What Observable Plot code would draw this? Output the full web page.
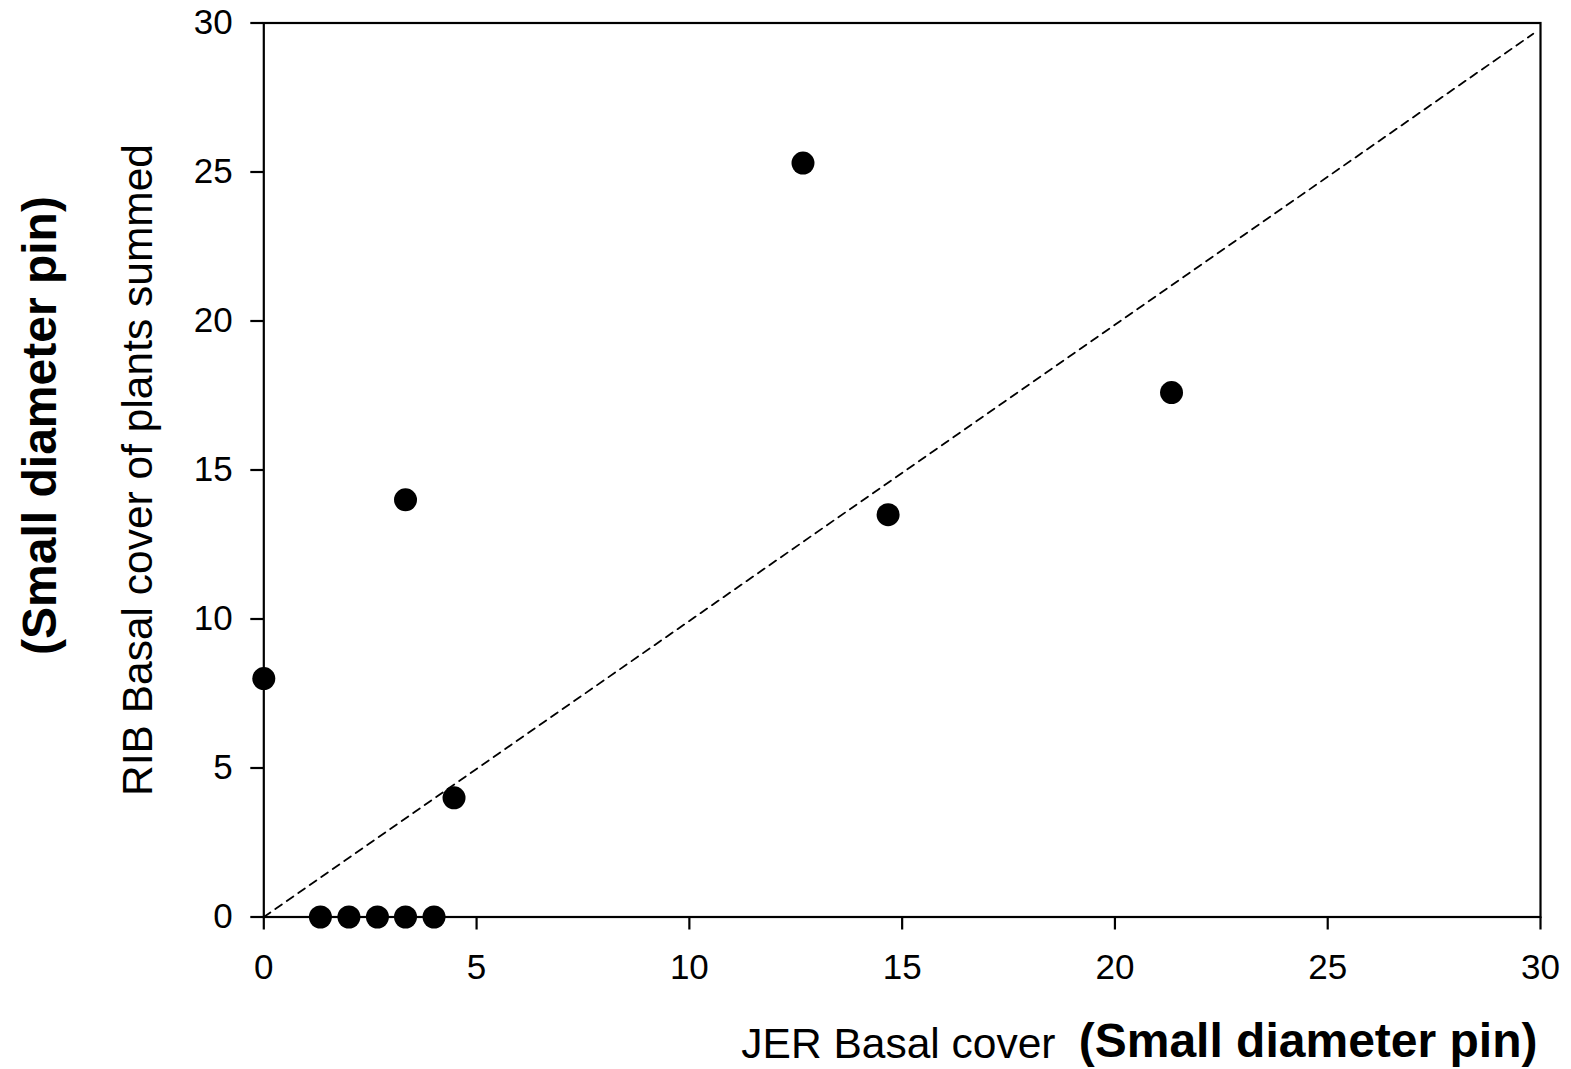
<!DOCTYPE html>
<html>
<head>
<meta charset="utf-8">
<script src="https://cdn.jsdelivr.net/npm/d3@7"></script>
<script src="https://cdn.jsdelivr.net/npm/@observablehq/plot@0.6"></script>
<style>
  html, body { margin: 0; padding: 0; background: #fff; }
  #chart svg { display: block; }
</style>
</head>
<body>
<div id="chart"></div>
<script>
// JER basal cover (x) vs RIB basal cover of plants summed (y), small diameter pin
const jerCover = [0, 1.33, 2.0, 2.67, 3.33, 4.0, 3.33, 4.47, 12.67, 14.67, 21.33];
const ribCover = [8, 0, 0, 0, 0, 0, 14, 4, 25.3, 13.5, 17.6];
const axisTicks = [0, 5, 10, 15, 20, 25, 30];
const refLineX = [0, 29.83];
const refLineY = [0, 29.64];
const xLabelNormal = "JER Basal cover";
const xLabelBold = "(Small diameter pin)";
const yLabelNormal = "RIB Basal cover of plants summed";
const yLabelBold = "(Small diameter pin)";

const points = jerCover.map((x, i) => ({x, y: ribCover[i]}));
const refLine = refLineX.map((x, i) => ({x, y: refLineY[i]}));

const font = "'Liberation Sans', Arial, Helvetica, sans-serif";

const chart = Plot.plot({
  width: 1571,
  height: 1069,
  marginLeft: 263.3,
  marginRight: 31,
  marginTop: 22.5,
  marginBottom: 152.5,
  style: {fontFamily: font, background: "#fff", color: "#000"},
  x: {domain: [0, 30]},
  y: {domain: [0, 30]},
  marks: [
    Plot.line(refLine, {x: "x", y: "y", stroke: "#000", strokeWidth: 1.8, strokeDasharray: "8,6"}),
    Plot.frame({stroke: "#000", strokeWidth: 2.2}),
    Plot.axisX({ticks: axisTicks, tickSize: 13, tickPadding: 24, fontSize: 35, strokeWidth: 2.2, label: null, tickFormat: d => String(d)}),
    Plot.axisY({ticks: axisTicks, tickSize: 13, tickPadding: 18, fontSize: 35, strokeWidth: 2.2, label: null, tickFormat: d => String(d)}),
    Plot.dot(points, {x: "x", y: "y", r: 11.5, fill: "#000", stroke: "none"}),
    Plot.text([xLabelBold], {text: d => d, frameAnchor: "bottom-right", textAnchor: "end", lineAnchor: "middle", dx: -3, dy: 125, fontSize: 48, fontWeight: "bold", fill: "#000"}),
    Plot.text([xLabelNormal], {text: d => d, frameAnchor: "bottom-right", textAnchor: "end", lineAnchor: "middle", dx: -485, dy: 127, fontSize: 42.5, fill: "#000"}),
    Plot.text([yLabelNormal], {text: d => d, frameAnchor: "left", rotate: -90, textAnchor: "middle", lineAnchor: "middle", dx: -125, dy: 0, fontSize: 42.5, fill: "#000"}),
    Plot.text([yLabelBold], {text: d => d, frameAnchor: "left", rotate: -90, textAnchor: "middle", lineAnchor: "middle", dx: -223, dy: -44.5, fontSize: 48, fontWeight: "bold", fill: "#000"})
  ]
});
document.getElementById("chart").appendChild(chart);
</script>
</body>
</html>
